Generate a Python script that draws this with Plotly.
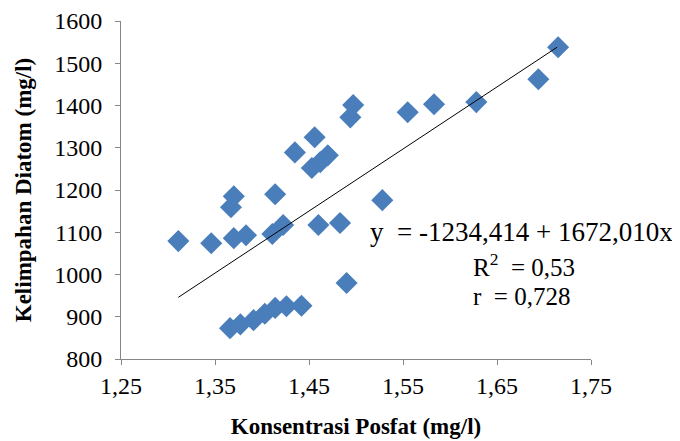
import plotly.graph_objects as go

# Data
posfat = [1.311, 1.346, 1.367, 1.370, 1.370, 1.383, 1.414, 1.411, 1.4225,
          1.435, 1.456, 1.453, 1.462, 1.470, 1.460, 1.483, 1.490, 1.528,
          1.494, 1.497, 1.555, 1.583, 1.628, 1.694, 1.715,
          1.366, 1.377, 1.391, 1.403, 1.414, 1.426, 1.442]
diatom = [1079, 1074, 1159, 1185, 1086, 1093, 1190, 1096, 1117,
          1289, 1325, 1252, 1266, 1282, 1117, 1122, 980, 1176,
          1372, 1401, 1384, 1403, 1408, 1462, 1538,
          873, 882, 892, 907, 921, 925, 926]

trend_x = [1.311, 1.714]
trend_y = [946, 1538]

x_ticks = [1.25, 1.35, 1.45, 1.55, 1.65, 1.75]
x_tick_labels = ["1,25", "1,35", "1,45", "1,55", "1,65", "1,75"]
y_ticks = [800, 900, 1000, 1100, 1200, 1300, 1400, 1500, 1600]

eq_lines = ["y  = -1234,414 + 1672,010x", "R<sup>2</sup>  = 0,53", "r  = 0,728"]
eq_sizes = [27, 25, 25]

serif = "Liberation Serif"

fig = go.Figure()
fig.add_trace(go.Scatter(
    x=posfat, y=diatom, mode="markers",
    marker=dict(symbol="diamond", size=17, color="#4A7EBB", line=dict(width=0)),
    showlegend=False, hoverinfo="skip"))
fig.add_trace(go.Scatter(
    x=trend_x, y=trend_y, mode="lines",
    line=dict(color="#000000", width=1), showlegend=False, hoverinfo="skip"))

ann_pos = [(0.852, 0.375), (0.857, 0.278), (0.852, 0.186)]
for txt, sz, (ax, ay) in zip(eq_lines, eq_sizes, ann_pos):
    fig.add_annotation(text=txt, xref="paper", yref="paper", x=ax, y=ay,
                       xanchor="center", yanchor="middle", showarrow=False,
                       font=dict(family=serif, size=sz, color="#000000"))

# page body has an 8px default margin; figure sized so it ends at the window edge
fig.update_layout(
    width=672, height=433,
    margin=dict(l=113, r=89, t=13, b=82),
    paper_bgcolor="white", plot_bgcolor="white",
    font=dict(family=serif, color="#000000"),
    xaxis=dict(range=[1.25, 1.75], tickvals=x_ticks, ticktext=x_tick_labels,
               automargin=False,
               showgrid=False, zeroline=False, showline=True, linecolor="#868686",
               linewidth=1, ticks="outside", ticklen=5, tickcolor="#868686",
               tickfont=dict(family=serif, size=24, color="#000000"),
               title=dict(text="<b>Konsentrasi Posfat (mg/l)</b>", standoff=20,
                          font=dict(family=serif, size=23, color="#000000"))),
    yaxis=dict(range=[800, 1600], tickvals=y_ticks, automargin=False,
               ticklabelstandoff=8,
               showgrid=False, zeroline=False, showline=True, linecolor="#868686",
               linewidth=1, ticks="outside", ticklen=5, tickcolor="#868686",
               tickfont=dict(family=serif, size=24, color="#000000"),
               title=dict(text="<b>Kelimpahan Diatom (mg/l)</b>", standoff=16,
                          font=dict(family=serif, size=23, color="#000000"))),
)

fig.write_html("out.html")
